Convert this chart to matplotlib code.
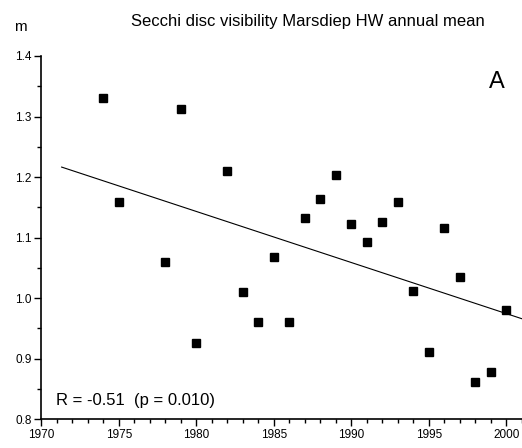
import matplotlib
matplotlib.use("Agg")
import matplotlib.pyplot as plt
from matplotlib.ticker import MultipleLocator
import numpy as np

plt.rcParams['font.family'] = ['Liberation Sans', 'DejaVu Sans']

# annual mean Secchi disc visibility (m)
years = [1974, 1975, 1978, 1979, 1980, 1982, 1983, 1984, 1985, 1986, 1987, 1988,
         1989, 1990, 1991, 1992, 1993, 1994, 1995, 1996, 1997, 1998, 1999, 2000]
secchi = [1.331, 1.159, 1.060, 1.312, 0.926, 1.210, 1.010, 0.960, 1.067, 0.960, 1.133, 1.163,
          1.204, 1.122, 1.092, 1.125, 1.159, 1.012, 0.911, 1.116, 1.035, 0.862, 0.877, 0.981]
trend_years = [1971.3, 2001]
x_ticks = [1970, 1975, 1980, 1985, 1990, 1995, 2000]
y_ticks = [0.8, 0.9, 1.0, 1.1, 1.2, 1.3, 1.4]
y_labels = ['0.8', '0.9', '1.0', '1.1', '1.2', '1.3', '1.4']
stats_label = "R = -0.51  (p = 0.010)"

fig = plt.figure(figsize=(5.22, 4.48), dpi=100)
ax = fig.add_axes([0.0795, 0.0647, 0.92, 0.8103])

x = np.array(years)
y = np.array(secchi)
slope, icpt = np.polyfit(x, y, 1)
tx = np.array(trend_years)
ax.plot(tx, slope * tx + icpt, color='black', lw=0.8)
ax.plot(x, y, 's', color='black', markersize=5.8, clip_on=False)

ax.set_xlim(1970, 2001)
ax.set_ylim(0.8, 1.4)
ax.set_xticks(x_ticks)
ax.set_xticklabels([str(v) for v in x_ticks])
ax.set_yticks(y_ticks)
ax.set_yticklabels(y_labels)
ax.xaxis.set_minor_locator(MultipleLocator(1))
ax.yaxis.set_minor_locator(MultipleLocator(0.05))

for s in ['top', 'right']:
    ax.spines[s].set_visible(False)
for s in ['left', 'bottom']:
    ax.spines[s].set_linewidth(1.2)

ax.tick_params(which='major', length=5, width=1, labelsize=8.5, pad=2)
ax.tick_params(which='minor', length=3, width=1)

ax.text(0.03, 0.03, stats_label, transform=ax.transAxes, fontsize=12, ha='left', va='bottom')
ax.text(0.965, 0.96, "A", transform=ax.transAxes, fontsize=17, ha='right', va='top')
fig.text(0.027, 0.925, "m", fontsize=11, ha='left', va='bottom')
fig.text(0.59, 0.935, "Secchi disc visibility Marsdiep HW annual mean", fontsize=12,
         ha='center', va='bottom')

fig.savefig("out.png", dpi=100)
